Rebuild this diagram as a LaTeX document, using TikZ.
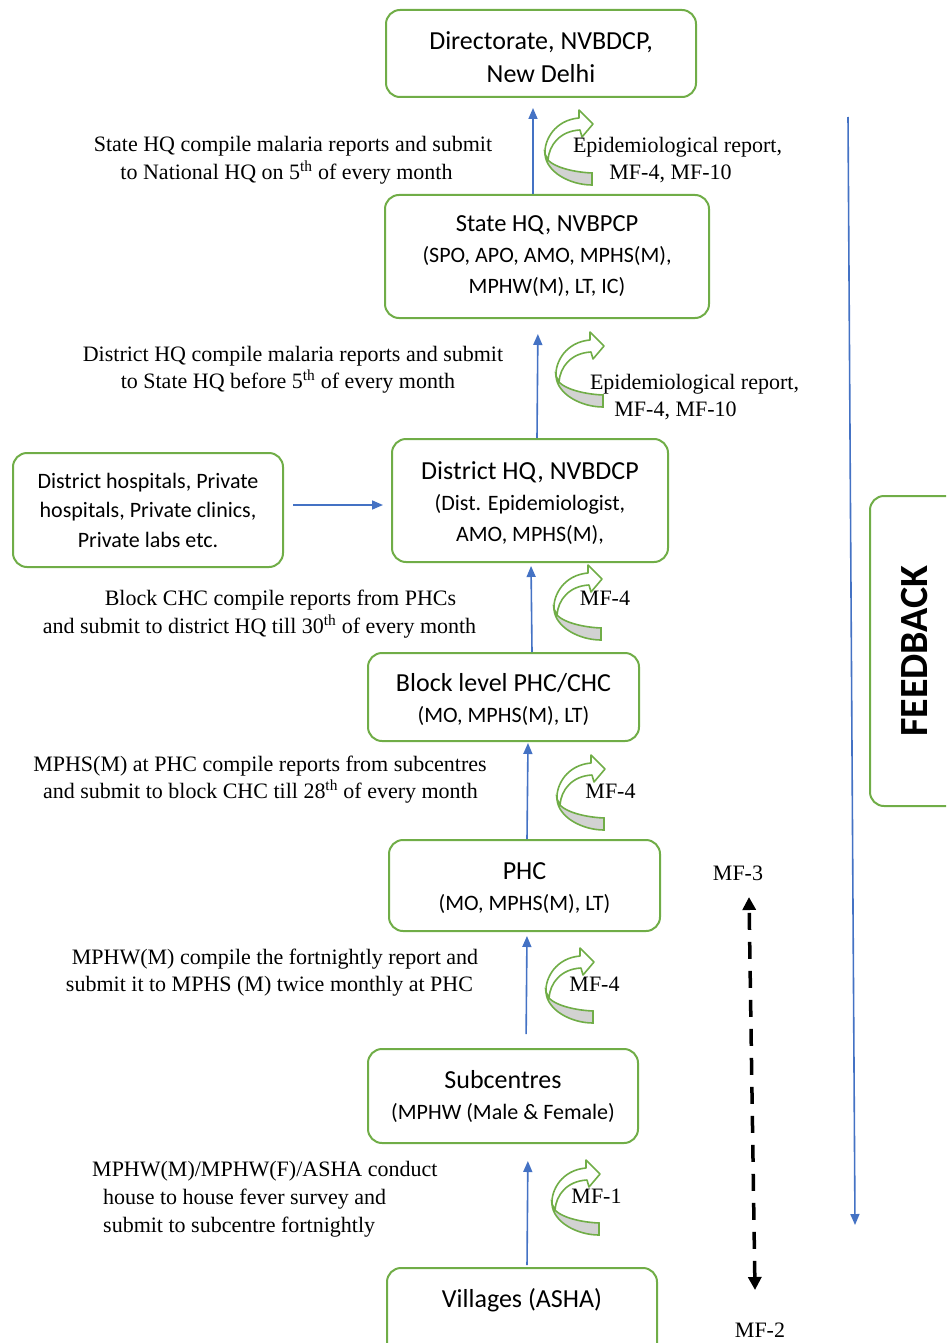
\documentclass[tikz,border=0pt]{standalone}
\usepackage{fontspec}
\setmainfont{Liberation Serif}
\newfontfamily\calib{Carlito}
\usetikzlibrary{arrows.meta,calc}
\definecolor{gboxc}{HTML}{70AD47}
\definecolor{bluec}{HTML}{4472C4}
\tikzset{
  box/.style={draw=gboxc, line width=2pt, rounded corners=14pt, align=center,
    font=\calib\fontsize{22}{31}\selectfont, inner sep=0pt},
  flow/.style={draw=bluec, line width=1.6pt, -{Triangle[length=11pt,width=9pt]}},
  ann/.style={font=\fontsize{22}{27}\selectfont, inner sep=0pt, anchor=base},
  dasharrow/.style={draw=black, line width=3.5pt, dash pattern=on 17pt off 12pt,
    {Triangle[length=13pt,width=13pt]}-{Triangle[length=13pt,width=13pt]}},
  curv/.pic={
    \filldraw[fill=gray!35, draw=gboxc, line width=1.6pt]
      (0,44) .. controls (1,62) and (25,75) .. (47,75) -- (47,63)
      .. controls (25,62) and (8,56) .. (3,50) -- cycle;
    \filldraw[fill=white, draw=gboxc, line width=1.6pt, line join=round]
      (35,20) -- (37,27) -- (48,14) -- (34,0) -- (34,8)
      .. controls (10,10) and (-1,30) .. (0,44) -- (3,50)
      .. controls (4,35) and (15,21) .. (35,20) -- cycle;
  }
}
\newcommand{\tl}[1]{{\fontsize{26}{31}\selectfont #1}}
\begin{document}
\begin{tikzpicture}[x=1pt,y=-1pt]
\useasboundingbox (0,0) rectangle (946,1343);
\clip (0,0) rectangle (946,1343);

% boxes
\node[box, minimum width=310pt, minimum height=87pt] (dir) at (541,53.5)
  {\rule{0pt}{26pt}\tl{Directorate, NVBDCP,}\\[2pt]\tl{New Delhi}};
\node[box, minimum width=324pt, minimum height=123pt] (state) at (547,256.5)
  {{\fontsize{24.5}{31}\selectfont State HQ, NVBPCP}\\(SPO, APO, AMO, MPHS(M),\\MPHW(M), LT, IC)};
\node[box, minimum width=276pt, minimum height=123pt] (dist) at (530,500.5)
  {\rule{0pt}{24pt}\tl{District HQ, NVBDCP}\\(Dist. Epidemiologist,\\AMO, MPHS(M),};
\node[box, minimum width=270pt, minimum height=114pt, font=\calib\fontsize{22}{29.5}\selectfont] (side) at (148,510)
  {District hospitals, Private\\hospitals, Private clinics,\\Private labs etc.};
\node[box, minimum width=271pt, minimum height=88pt] (block) at (503.5,697)
  {\rule{0pt}{23pt}\tl{Block level PHC/CHC}\\(MO, MPHS(M), LT)};
\node[box, minimum width=271pt, minimum height=91pt] (phc) at (524.5,885.5)
  {\rule{0pt}{23pt}\tl{PHC}\\(MO, MPHS(M), LT)};
\node[box, minimum width=270pt, minimum height=94pt] (sub) at (503,1096)
  {\tl{Subcentres}\\(MPHW (Male \& Female)};
\node[box, anchor=north, minimum width=270pt, text height=39pt, text depth=50pt] (vill) at (522,1267)
  {\tl{Villages (ASHA)}};
\node[box, rotate=90, minimum width=310pt, minimum height=90pt,
  font=\calib\bfseries\fontsize{40}{48}\selectfont] (fb) at (915,651) {FEEDBACK};

% vertical flow arrows
\draw[flow, shorten >=10pt] ([xshift=-14pt]state.north) -- ([xshift=-8pt]dir.south);
\draw[flow, shorten >=15pt] ([xshift=7pt]dist.north) -- ([xshift=-9pt]state.south);
\draw[flow, shorten >=3pt] ([xshift=28.5pt]block.north) -- ([xshift=1pt]dist.south);
\draw[flow, shorten >=1pt] ([xshift=2.5pt]phc.north) -- ([xshift=24.5pt]block.south);
\draw[flow, shorten <=14pt, shorten >=4pt] ([xshift=23pt]sub.north) -- ([xshift=2.5pt]phc.south);
\draw[flow, shorten <=2pt, shorten >=17pt] ([xshift=5pt]vill.north) -- ([xshift=25pt]sub.south);
\draw[flow, shorten <=9pt, shorten >=8pt] ([yshift=5pt]side.east) -- ([yshift=-4.5pt]dist.west);

% feedback line
\coordinate (fbtop) at (848,117);
\coordinate (fbbot) at (855,1225);
\draw[flow] (fbtop) -- (fbbot);

% curved arrows
\pic at (545,110) {curv};
\pic at (556,332) {curv};
\pic at (554,565) {curv};
\pic at (557,755) {curv};
\pic at (546,948) {curv};
\pic at (552,1160) {curv};

% curved arrow labels
\node[ann] (e1a) at (677.5,153) {Epidemiological report,};
\node[ann] (e1b) at (670.5,179) {MF-4, MF-10};
\node[ann] (e2a) at (694.5,389) {Epidemiological report,};
\node[ann] (e2b) at (675.5,416) {MF-4, MF-10};
\node[ann] (m3) at (605,605) {MF-4};
\node[ann] (m4) at (610.5,798) {MF-4};
\node[ann] (m5) at (594.5,991) {MF-4};
\node[ann] (m6) at (596.5,1203) {MF-1};

% dashed MF-3 / MF-2
\node[ann] (mf3) at (738,880) {MF-3};
\node[ann] (mf2) at (760,1337) {MF-2};
\coordinate (dtop) at (749,897);
\coordinate (dbot) at (755,1290);
\draw[dasharrow] (dbot) -- (dtop);

% annotations
\node[ann] (a1a) at (293,152) {State HQ compile malaria reports and submit};
\node[ann] (a1b) at (286.5,179) {to National HQ on 5\textsuperscript{th} of every month};
\node[ann] (a2a) at (293,361) {District HQ compile malaria reports and submit};
\node[ann] (a2b) at (288,388) {to State HQ before 5\textsuperscript{th} of every month};
\node[ann] (a3a) at (280.5,605) {Block CHC compile reports from PHCs};
\node[ann] (a3b) at (259.5,633) {and submit to district HQ till 30\textsuperscript{th} of every month};
\node[ann] (a4a) at (260,771) {MPHS(M) at PHC compile reports from subcentres};
\node[ann] (a4b) at (260.5,798) {and submit to block CHC till 28\textsuperscript{th} of every month};
\node[ann] (a5a) at (275,964) {MPHW(M) compile the fortnightly report and};
\node[ann] (a5b) at (269.5,991) {submit it to MPHS (M) twice monthly at PHC};
\node[ann, anchor=base west] (a6a) at (92,1176) {MPHW(M)/MPHW(F)/ASHA conduct};
\node[ann, anchor=base west] (a6b) at (103,1204) {house to house fever survey and};
\node[ann, anchor=base west] (a6c) at (103,1232) {submit to subcentre fortnightly};
\end{tikzpicture}
\end{document}
